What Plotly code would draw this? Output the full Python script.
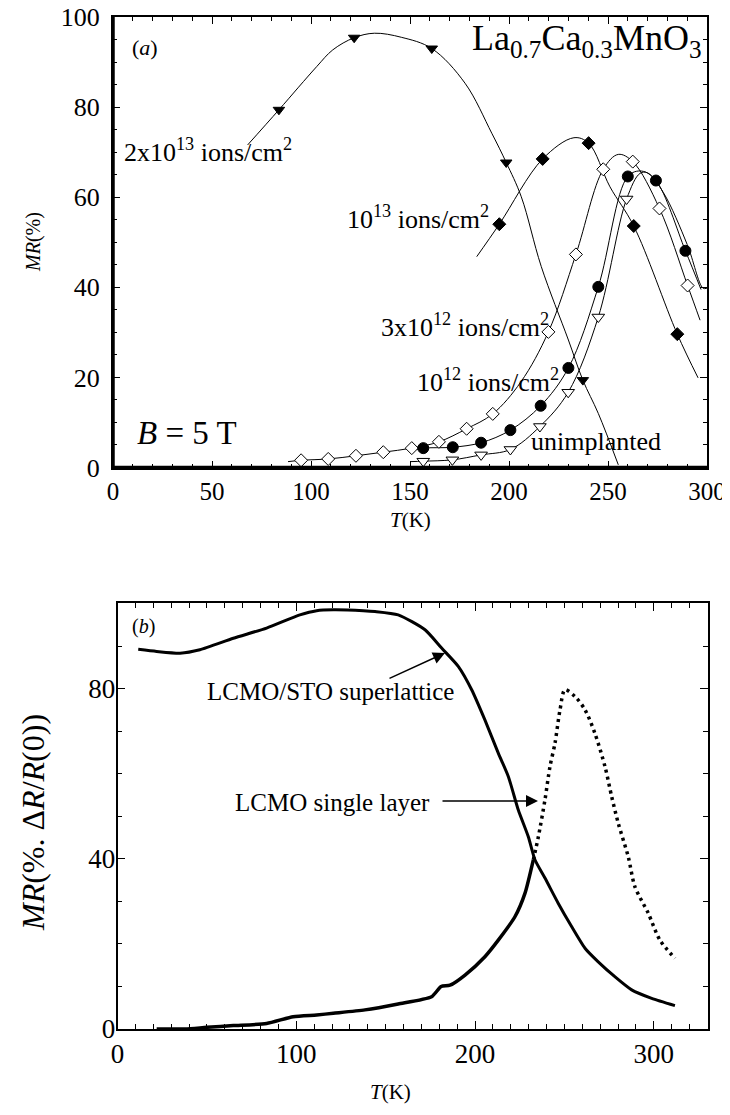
import plotly.graph_objects as go

# page body has an 8px margin; the figure is sized so that it fills the window exactly
OFF = 8
W, H = 730 - 2 * OFF, 1115 - 2 * OFF
FONT = "Liberation Serif, Times New Roman, serif"

# ---------------- Panel (a) data ----------------
# 2x10^13 ions/cm^2 (filled down-triangles)
a1_T = [83.8, 121.8, 161.0, 198.6, 237.3]
a1_MR = [79.4, 95.4, 93.0, 67.7, 19.4]
a1_curve_T = [68, 83.8, 102.9, 111, 121.8, 132, 145.6, 161, 177.8, 191.3, 198.6, 206.2, 216.3, 230, 237.3, 245.1, 255.2]
a1_curve_MR = [71.6, 79.4, 89.0, 92.7, 95.4, 96.4, 95.5, 93.0, 85.3, 74.2, 67.7, 60.1, 44.6, 28.3, 19.4, 12.0, 0.6]

# 10^13 ions/cm^2 (filled diamonds)
a2_T = [195.1, 217.0, 240.2, 263.0, 285.0]
a2_MR = [54.0, 68.5, 72.0, 53.6, 29.6]
a2_curve_T = [183.7, 195.1, 217.0, 232.8, 240.2, 251.0, 263.0, 285.0, 295.5]
a2_curve_MR = [46.8, 54.0, 68.5, 73.2, 72.0, 62.3, 53.6, 29.6, 19.9]

# 3x10^12 ions/cm^2 (open diamonds)
a3_T = [95.0, 108.7, 122.7, 136.5, 150.9, 164.6, 178.6, 191.8, 219.9, 233.8, 247.6, 262.5, 276.0, 290.2]
a3_MR = [1.6, 1.9, 2.6, 3.4, 4.3, 5.7, 8.6, 11.9, 30.1, 47.3, 66.2, 67.9, 57.5, 40.4]
a3_curve_T = [88.4, 95.0, 108.7, 122.7, 136.5, 150.9, 164.6, 178.6, 191.8, 206.0, 219.9, 233.8, 247.6, 255.2, 262.5, 276.0, 290.2, 296.5]
a3_curve_MR = [1.3, 1.6, 1.9, 2.6, 3.4, 4.3, 5.7, 8.6, 11.9, 19.0, 30.1, 47.3, 66.2, 69.5, 67.9, 57.5, 40.4, 32.7]

# 10^12 ions/cm^2 (filled circles)
a4_T = [156.7, 171.6, 185.9, 200.7, 216.0, 230.0, 245.1, 260.0, 274.2, 289.1]
a4_MR = [4.3, 4.5, 5.5, 8.3, 13.7, 22.1, 40.1, 64.6, 63.7, 48.1]
a4_curve_T = [152.5, 156.7, 171.6, 185.9, 200.7, 216.0, 230.0, 245.1, 260.0, 267.0, 274.2, 289.1, 297.0]
a4_curve_MR = [3.9, 4.3, 4.5, 5.5, 8.3, 13.7, 22.1, 40.1, 64.6, 65.8, 63.7, 48.1, 39.5]

# unimplanted (open down-triangles)
a5_T = [156.7, 171.4, 185.9, 200.7, 215.6, 229.9, 245.1, 259.4]
a5_MR = [1.4, 1.7, 2.8, 4.0, 9.1, 16.7, 33.4, 59.6]
a5_curve_T = [150.0, 156.7, 171.4, 185.9, 200.7, 215.6, 229.9, 245.1, 259.4, 266.2, 270.0, 278.0, 290.0, 298.0, 300.0]
a5_curve_MR = [1.3, 1.4, 1.7, 2.8, 4.0, 9.1, 16.7, 33.4, 59.6, 65.3, 65.4, 61.0, 49.5, 39.8, 39.8]

# ---------------- Panel (b) data ----------------
sup_T = [11.6, 21.9, 35.0, 46.1, 64.8, 83.4, 102.0, 111.4, 120.7, 137.5, 144.0, 157.0, 172.0, 181.3,
         190.6, 198.1, 205.5, 213.0, 218.6, 224.2, 229.8, 233.5, 239.1, 246.5, 254.0, 261.5, 268.9,
         278.2, 287.6, 298.8, 311.8]
sup_MR = [89.3, 88.8, 88.4, 89.2, 91.9, 94.3, 97.4, 98.4, 98.6, 98.4, 98.2, 97.4, 93.9, 89.6,
          85.3, 79.8, 72.7, 64.9, 59.4, 51.5, 45.2, 39.8, 35.5, 29.6, 24.1, 19.0, 15.8,
          12.3, 9.2, 7.2, 5.5]

single_T = [21.9, 37.8, 50.0, 64.8, 83.4, 98.3, 111.4, 120.7, 138.4, 157.0, 175.7, 181.0, 186.0,
            194.4, 205.5, 213.0, 222.3, 227.9, 232.6, 235.4, 239.1, 241.9, 244.7, 247.5, 250.3,
            255.9, 261.5, 267.0, 272.7, 276.4, 280.1, 285.7, 289.4, 296.9, 303.4, 311.8]
single_MR = [0.0, 0.0, 0.4, 0.8, 1.3, 2.9, 3.3, 3.7, 4.5, 5.9, 7.6, 10.0, 10.3,
             12.7, 17.0, 20.9, 26.4, 31.9, 39.8, 45.2, 53.9, 61.7, 67.2, 75.0, 79.8,
             78.2, 75.1, 69.6, 61.7, 54.7, 48.4, 40.5, 33.5, 27.2, 20.9, 16.6]

a_xticks = [0, 50, 100, 150, 200, 250, 300]
a_yticks = [0, 20, 40, 60, 80, 100]
b_xticks = [0, 100, 200, 300]
b_yticks = [0, 40, 80]


def px(x):
    return (x - OFF) / W


def py(y):
    return 1 - (y - OFF) / H


fig = go.Figure()


def add_curve(T, MR):
    fig.add_trace(go.Scatter(x=T, y=MR, mode="lines",
                             line=dict(color="black", width=1, shape="spline", smoothing=1.0),
                             xaxis="x", yaxis="y", showlegend=False, hoverinfo="skip"))


def add_markers(T, MR, symbol, size, filled):
    fig.add_trace(go.Scatter(
        x=T, y=MR, mode="markers",
        marker=dict(symbol=symbol, size=size,
                    color="black" if filled else "white",
                    line=dict(color="black", width=1)),
        xaxis="x", yaxis="y", showlegend=False))


add_curve(a1_curve_T, a1_curve_MR)
add_curve(a2_curve_T, a2_curve_MR)
add_curve(a3_curve_T, a3_curve_MR)
add_curve(a4_curve_T, a4_curve_MR)
add_curve(a5_curve_T, a5_curve_MR)
add_markers(a1_T, a1_MR, "triangle-down", 10, True)
add_markers(a2_T, a2_MR, "diamond", 10, True)
add_markers(a3_T, a3_MR, "diamond", 10, False)
add_markers(a4_T, a4_MR, "circle", 11, True)
add_markers(a5_T, a5_MR, "triangle-down", 11, False)

# Panel (b)
fig.add_trace(go.Scatter(x=sup_T, y=sup_MR, mode="lines",
                         line=dict(color="black", width=3, shape="spline", smoothing=0.6),
                         xaxis="x2", yaxis="y2", showlegend=False))
split = 232.6
lowT = [t for t in single_T if t <= split]
lowM = [m for t, m in zip(single_T, single_MR) if t <= split]
highT = [t for t in single_T if t >= split]
highM = [m for t, m in zip(single_T, single_MR) if t >= split]
fig.add_trace(go.Scatter(x=lowT, y=lowM, mode="lines",
                         line=dict(color="black", width=3.5, shape="spline", smoothing=0.6),
                         xaxis="x2", yaxis="y2", showlegend=False))
fig.add_trace(go.Scatter(x=highT, y=highM, mode="lines",
                         line=dict(color="black", width=3.5, shape="spline", smoothing=0.8, dash="3px,4px"),
                         xaxis="x2", yaxis="y2", showlegend=False))

axis_common = dict(showgrid=False, zeroline=False, showline=True, linecolor="black",
                   ticks="inside", tickcolor="black", mirror="allticks", automargin=False,
                   ticklabeloverflow="allow")

fig.update_layout(
    width=W, height=H,
    margin=dict(l=0, r=0, t=0, b=0, pad=0, autoexpand=False),
    paper_bgcolor="white", plot_bgcolor="white",
    xaxis=dict(domain=[px(113), px(707)], range=[0, 300], anchor="y",
               tickvals=a_xticks, ticklen=7, linewidth=2,
               minor=dict(dtick=10, tick0=0, ticklen=4, ticks="inside", tickcolor="black"),
               tickfont=dict(family=FONT, size=25, color="black"),
               ticklabelstandoff=0, **axis_common),
    yaxis=dict(domain=[py(467.5), py(17)], range=[0, 100], anchor="x",
               tickvals=a_yticks, ticklen=7, linewidth=2,
               minor=dict(dtick=5, tick0=0, ticklen=4, ticks="inside", tickcolor="black"),
               tickfont=dict(family=FONT, size=26, color="black"),
               ticklabelstandoff=6, **axis_common),
    xaxis2=dict(domain=[px(117.5), px(708)], range=[0, 330.3], anchor="y2",
                tickvals=b_xticks, ticklen=8, linewidth=1.5,
                minor=dict(dtick=10, tick0=0, ticklen=5, ticks="inside", tickcolor="black"),
                tickfont=dict(family=FONT, size=27, color="black"),
                ticklabelstandoff=0, **axis_common),
    yaxis2=dict(domain=[py(1029), py(603)], range=[0, 100.2], anchor="x2",
                tickvals=b_yticks, ticklen=8, linewidth=1.5,
                minor=dict(dtick=10, tick0=0, ticklen=5, ticks="inside", tickcolor="black"),
                tickfont=dict(family=FONT, size=27, color="black"),
                ticklabelstandoff=-5, **axis_common),
)

# thicker left/bottom frame of panel (a)
fig.add_shape(type="line", xref="x domain", yref="y domain", x0=0, x1=0, y0=0, y1=1,
              line=dict(color="black", width=3.5))
fig.add_shape(type="line", xref="x domain", yref="y domain", x0=0, x1=1, y0=0, y1=0,
              line=dict(color="black", width=3.5))


def label(text, x, y, size, xanchor="center", angle=0):
    fig.add_annotation(text=text, x=px(x), y=py(y), xref="paper", yref="paper",
                       xanchor=xanchor, yanchor="middle", showarrow=False, textangle=angle,
                       font=dict(family=FONT, size=size, color="black"))


# Panel (a) labels
label("(<i>a</i>)", 145, 48, 22)
label("La<sub>0.7</sub>Ca<sub>0.3</sub>MnO<sub>3</sub>", 704, 40, 36, xanchor="right")
label("2x10<sup>13</sup> ions/cm<sup>2</sup>", 208, 150, 26)
label("10<sup>13</sup> ions/cm<sup>2</sup>", 491, 218, 26, xanchor="right")
label("3x10<sup>12</sup> ions/cm<sup>2</sup>", 465, 325, 26)
label("10<sup>12</sup> ions/cm<sup>2</sup>", 488, 380, 26)
label("unimplanted", 596, 441, 26)
label("<i>B</i> = 5 T", 187, 433, 33)
label("<i>MR</i>(%)", 33, 242, 20, angle=-90)
label("<i>T</i>(K)", 410, 520, 21)

# Panel (b) labels
label("(<i>b</i>)", 143, 626, 20)
label("LCMO/STO superlattice", 330, 691, 25)
label("LCMO single layer", 332, 802, 25)
label("<i>MR</i>(%. Δ<i>R</i>/<i>R</i>(0))", 33, 823, 32, angle=-90)
label("<i>T</i>(K)", 390, 1092, 21)

# arrows (panel b)
for head, tail in [((445, 653), (388, 679)), ((538, 801), (441, 801))]:
    fig.add_annotation(text="", x=px(head[0]), y=py(head[1]), xref="paper", yref="paper",
                       ax=tail[0] - head[0], ay=tail[1] - head[1], axref="pixel", ayref="pixel",
                       showarrow=True, arrowhead=2, arrowsize=1.6, arrowwidth=1.5, arrowcolor="black")

fig.write_html("out.html")
